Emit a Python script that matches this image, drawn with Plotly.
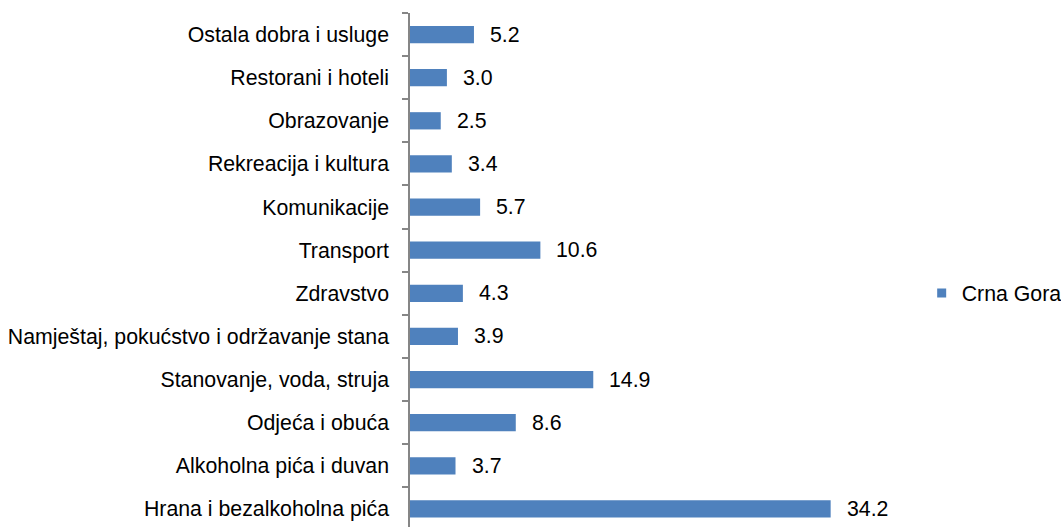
import plotly.graph_objects as go

categories = [
    "Hrana i bezalkoholna pića",
    "Alkoholna pića i duvan",
    "Odjeća i obuća",
    "Stanovanje, voda, struja",
    "Namještaj, pokućstvo i održavanje stana",
    "Zdravstvo",
    "Transport",
    "Komunikacije",
    "Rekreacija i kultura",
    "Obrazovanje",
    "Restorani i hoteli",
    "Ostala dobra i usluge",
]
values = [34.2, 3.7, 8.6, 14.9, 3.9, 4.3, 10.6, 5.7, 3.4, 2.5, 3.0, 5.2]
series_name = "Crna Gora"

color = "#4F81BD"
font = "Liberation Sans, Arial, sans-serif"
fsize = 21.3

fig = go.Figure()
fig.add_trace(go.Bar(
    y=categories, x=values, orientation="h",
    marker=dict(color=color, line=dict(width=0)),
    width=0.4, showlegend=False, name=series_name,
))
fig.add_trace(go.Scatter(
    x=[None], y=[None], mode="markers",
    marker=dict(symbol="square", size=9, color=color),
    name=series_name, showlegend=True,
))

for c, v in zip(categories, values):
    fig.add_annotation(
        x=v, y=c, text=f"{v:.1f}", showarrow=False,
        xanchor="left", xshift=14,
        font=dict(family=font, size=fsize, color="#000000"),
    )

fig.update_layout(
    width=1061, height=527,
    margin=dict(l=410, r=159, t=13, b=0, autoexpand=False),
    paper_bgcolor="white", plot_bgcolor="white",
    font=dict(family=font, size=fsize, color="#000000"),
    xaxis=dict(range=[0, 40], visible=False, showgrid=False, zeroline=False),
    yaxis=dict(
        type="category", categoryorder="array", categoryarray=categories,
        range=[-0.42, 11.5],
        showline=True, linecolor="#868686", linewidth=1.5,
        ticks="outside", tickson="boundaries", ticklen=6, tickcolor="#868686",
        tickwidth=1.5, showgrid=False, zeroline=False,
        ticklabelstandoff=15,
        tickfont=dict(family=font, size=fsize, color="#000000"),
    ),
    legend=dict(
        x=1.04, y=0.455, xanchor="left", yanchor="middle",
        font=dict(family=font, size=fsize, color="#000000"),
        itemwidth=30, bgcolor="rgba(0,0,0,0)",
    ),
)

fig.write_html(
    "out.html",
    config={"displayModeBar": False},
    post_script="document.body.style.margin='0';document.body.style.overflow='hidden';",
)
